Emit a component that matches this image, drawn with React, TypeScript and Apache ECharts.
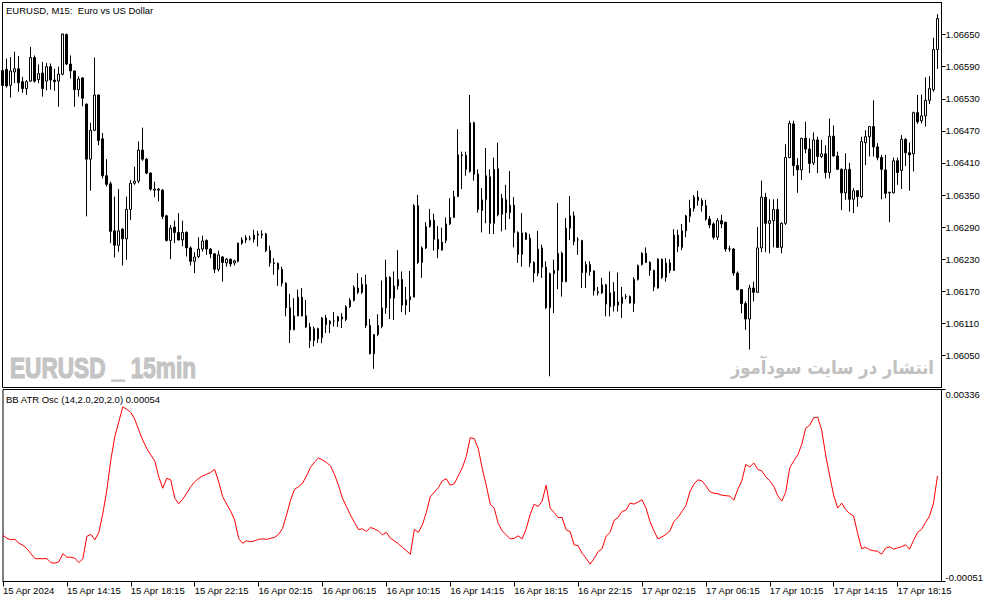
import { useEffect, useRef } from 'react';
import * as echarts from 'echarts';

const FONT = "'Liberation Sans', Arial, sans-serif";

// M15 bars from 15 Apr 2024 10:15, plus one empty slot on the right edge
const MONTHS = ['Jan', 'Feb', 'Mar', 'Apr', 'May', 'Jun', 'Jul', 'Aug', 'Sep', 'Oct', 'Nov', 'Dec'];
const START = Date.UTC(2024, 3, 15, 10, 15);
const pad = (n: number) => (n < 10 ? '0' + n : '' + n);
const categories: string[] = [];
for (let i = 0; i < 236; i++) {
  const d = new Date(START + i * 15 * 60000);
  categories.push(`${d.getUTCDate()} ${MONTHS[d.getUTCMonth()]} ${pad(d.getUTCHours())}:${pad(d.getUTCMinutes())}`);
}

const tickLabels = [
  '15 Apr 2024', '15 Apr 14:15', '15 Apr 18:15', '15 Apr 22:15', '16 Apr 02:15',
  '16 Apr 06:15', '16 Apr 10:15', '16 Apr 14:15', '16 Apr 18:15', '16 Apr 22:15',
  '17 Apr 02:15', '17 Apr 06:15', '17 Apr 10:15', '17 Apr 14:15', '17 Apr 18:15',
];

const opens = [
  1.06583, 1.06585, 1.06555, 1.06580, 1.06586, 1.06562, 1.06549, 1.06563, 1.06607, 1.06566,
  1.06578, 1.06563, 1.06590, 1.06565, 1.06563, 1.06576, 1.06650, 1.06595, 1.06582, 1.06547,
  1.06569, 1.06520, 1.06417, 1.06471, 1.06537, 1.06455, 1.06386, 1.06371, 1.06283, 1.06256,
  1.06286, 1.06268, 1.06323, 1.06372, 1.06376, 1.06434, 1.06417, 1.06391, 1.06359, 1.06359,
  1.06359, 1.06311, 1.06265, 1.06290, 1.06280, 1.06266, 1.06280, 1.06251, 1.06226, 1.06235,
  1.06249, 1.06265, 1.06249, 1.06240, 1.06211, 1.06234, 1.06223, 1.06230, 1.06223, 1.06226,
  1.06260, 1.06266, 1.06268, 1.06267, 1.06275, 1.06277, 1.06277, 1.06246, 1.06223, 1.06222,
  1.06211, 1.06185, 1.06139, 1.06098, 1.06124, 1.06159, 1.06124, 1.06103, 1.06078, 1.06100,
  1.06083, 1.06120, 1.06109, 1.06114, 1.06114, 1.06122, 1.06117, 1.06141, 1.06153, 1.06176,
  1.06168, 1.06182, 1.06106, 1.06053, 1.06089, 1.06104, 1.06139, 1.06196, 1.06157, 1.06180,
  1.06192, 1.06144, 1.06154, 1.06159, 1.06330, 1.06224, 1.06251, 1.06291, 1.06303, 1.06267,
  1.06247, 1.06265, 1.06296, 1.06308, 1.06347, 1.06425, 1.06424, 1.06394, 1.06485, 1.06389,
  1.06321, 1.06341, 1.06384, 1.06297, 1.06399, 1.06314, 1.06341, 1.06317, 1.06331, 1.06280,
  1.06239, 1.06279, 1.06269, 1.06224, 1.06204, 1.06251, 1.06215, 1.06139, 1.06203, 1.06209,
  1.06241, 1.06188, 1.06288, 1.06311, 1.06266, 1.06265, 1.06205, 1.06220, 1.06208, 1.06169,
  1.06167, 1.06182, 1.06141, 1.06169, 1.06144, 1.06147, 1.06160, 1.06160, 1.06147, 1.06192,
  1.06220, 1.06241, 1.06224, 1.06209, 1.06176, 1.06230, 1.06196, 1.06223, 1.06209, 1.06275,
  1.06252, 1.06283, 1.06310, 1.06325, 1.06346, 1.06340, 1.06330, 1.06305, 1.06296, 1.06271,
  1.06302, 1.06299, 1.06249, 1.06249, 1.06204, 1.06173, 1.06147, 1.06118, 1.06176, 1.06168,
  1.06251, 1.06346, 1.06297, 1.06302, 1.06323, 1.06252, 1.06297, 1.06420, 1.06483, 1.06405,
  1.06397, 1.06456, 1.06436, 1.06410, 1.06453, 1.06422, 1.06427, 1.06392, 1.06460, 1.06423,
  1.06398, 1.06354, 1.06398, 1.06342, 1.06358, 1.06347, 1.06448, 1.06459, 1.06478, 1.06440,
  1.06420, 1.06397, 1.06354, 1.06354, 1.06414, 1.06396, 1.06454, 1.06429, 1.06427, 1.06504,
  1.06489, 1.06498, 1.06527, 1.06547, 1.06622,
];

const highs = [
  1.06590, 1.06605, 1.06608, 1.06618, 1.06610, 1.06571, 1.06565, 1.06627, 1.06611, 1.06594,
  1.06599, 1.06597, 1.06596, 1.06586, 1.06590, 1.06652, 1.06652, 1.06611, 1.06583, 1.06572,
  1.06570, 1.06521, 1.06485, 1.06607, 1.06538, 1.06466, 1.06417, 1.06375, 1.06347, 1.06361,
  1.06288, 1.06347, 1.06378, 1.06403, 1.06450, 1.06476, 1.06419, 1.06392, 1.06375, 1.06363,
  1.06361, 1.06313, 1.06294, 1.06302, 1.06316, 1.06302, 1.06282, 1.06254, 1.06243, 1.06271,
  1.06274, 1.06267, 1.06251, 1.06241, 1.06246, 1.06236, 1.06232, 1.06231, 1.06229, 1.06261,
  1.06271, 1.06275, 1.06274, 1.06285, 1.06283, 1.06284, 1.06279, 1.06255, 1.06232, 1.06224,
  1.06216, 1.06187, 1.06165, 1.06157, 1.06173, 1.06176, 1.06154, 1.06111, 1.06104, 1.06102,
  1.06122, 1.06126, 1.06116, 1.06131, 1.06124, 1.06129, 1.06144, 1.06157, 1.06181, 1.06204,
  1.06196, 1.06201, 1.06118, 1.06090, 1.06127, 1.06190, 1.06229, 1.06198, 1.06207, 1.06247,
  1.06207, 1.06178, 1.06208, 1.06333, 1.06350, 1.06254, 1.06299, 1.06324, 1.06315, 1.06292,
  1.06289, 1.06308, 1.06344, 1.06358, 1.06473, 1.06431, 1.06431, 1.06537, 1.06487, 1.06398,
  1.06363, 1.06438, 1.06398, 1.06420, 1.06448, 1.06352, 1.06369, 1.06395, 1.06346, 1.06282,
  1.06316, 1.06280, 1.06277, 1.06226, 1.06283, 1.06257, 1.06226, 1.06205, 1.06229, 1.06335,
  1.06244, 1.06307, 1.06348, 1.06319, 1.06271, 1.06266, 1.06226, 1.06226, 1.06209, 1.06178,
  1.06195, 1.06184, 1.06207, 1.06187, 1.06205, 1.06178, 1.06165, 1.06162, 1.06196, 1.06220,
  1.06243, 1.06252, 1.06226, 1.06210, 1.06232, 1.06231, 1.06232, 1.06230, 1.06286, 1.06285,
  1.06296, 1.06313, 1.06341, 1.06350, 1.06358, 1.06344, 1.06341, 1.06311, 1.06299, 1.06307,
  1.06313, 1.06300, 1.06255, 1.06251, 1.06207, 1.06174, 1.06151, 1.06182, 1.06188, 1.06290,
  1.06377, 1.06354, 1.06342, 1.06342, 1.06343, 1.06299, 1.06445, 1.06489, 1.06489, 1.06419,
  1.06457, 1.06487, 1.06456, 1.06467, 1.06459, 1.06453, 1.06443, 1.06493, 1.06480, 1.06431,
  1.06400, 1.06428, 1.06410, 1.06363, 1.06359, 1.06459, 1.06471, 1.06479, 1.06527, 1.06447,
  1.06425, 1.06425, 1.06356, 1.06420, 1.06420, 1.06462, 1.06456, 1.06448, 1.06506, 1.06537,
  1.06538, 1.06570, 1.06572, 1.06644, 1.06688,
];

const lows = [
  1.06516, 1.06551, 1.06532, 1.06559, 1.06543, 1.06541, 1.06537, 1.06562, 1.06560, 1.06559,
  1.06534, 1.06546, 1.06547, 1.06545, 1.06515, 1.06574, 1.06593, 1.06568, 1.06515, 1.06534,
  1.06516, 1.06310, 1.06358, 1.06470, 1.06443, 1.06381, 1.06366, 1.06260, 1.06233, 1.06244,
  1.06218, 1.06229, 1.06303, 1.06369, 1.06372, 1.06414, 1.06389, 1.06358, 1.06346, 1.06338,
  1.06305, 1.06263, 1.06230, 1.06260, 1.06265, 1.06254, 1.06235, 1.06218, 1.06204, 1.06232,
  1.06244, 1.06238, 1.06232, 1.06204, 1.06207, 1.06188, 1.06216, 1.06216, 1.06218, 1.06224,
  1.06257, 1.06260, 1.06265, 1.06261, 1.06254, 1.06269, 1.06243, 1.06216, 1.06201, 1.06180,
  1.06179, 1.06123, 1.06073, 1.06097, 1.06123, 1.06123, 1.06101, 1.06064, 1.06067, 1.06073,
  1.06073, 1.06092, 1.06092, 1.06104, 1.06103, 1.06101, 1.06114, 1.06139, 1.06151, 1.06165,
  1.06165, 1.06101, 1.06052, 1.06025, 1.06086, 1.06101, 1.06128, 1.06118, 1.06116, 1.06173,
  1.06131, 1.06126, 1.06131, 1.06159, 1.06221, 1.06195, 1.06249, 1.06289, 1.06246, 1.06232,
  1.06246, 1.06260, 1.06294, 1.06307, 1.06346, 1.06361, 1.06386, 1.06392, 1.06377, 1.06317,
  1.06280, 1.06297, 1.06277, 1.06277, 1.06310, 1.06282, 1.06285, 1.06305, 1.06252, 1.06223,
  1.06216, 1.06266, 1.06215, 1.06187, 1.06198, 1.06195, 1.06137, 1.06011, 1.06129, 1.06174,
  1.06160, 1.06187, 1.06266, 1.06256, 1.06238, 1.06176, 1.06176, 1.06199, 1.06162, 1.06162,
  1.06165, 1.06123, 1.06123, 1.06132, 1.06132, 1.06120, 1.06155, 1.06147, 1.06131, 1.06190,
  1.06218, 1.06223, 1.06199, 1.06170, 1.06175, 1.06193, 1.06188, 1.06204, 1.06208, 1.06243,
  1.06247, 1.06271, 1.06299, 1.06319, 1.06330, 1.06319, 1.06302, 1.06288, 1.06267, 1.06266,
  1.06288, 1.06244, 1.06244, 1.06199, 1.06172, 1.06129, 1.06098, 1.06061, 1.06151, 1.06167,
  1.06243, 1.06243, 1.06241, 1.06252, 1.06251, 1.06241, 1.06294, 1.06419, 1.06386, 1.06354,
  1.06378, 1.06428, 1.06391, 1.06406, 1.06391, 1.06419, 1.06381, 1.06381, 1.06422, 1.06397,
  1.06322, 1.06341, 1.06319, 1.06316, 1.06328, 1.06344, 1.06406, 1.06422, 1.06422, 1.06415,
  1.06342, 1.06344, 1.06299, 1.06353, 1.06369, 1.06361, 1.06404, 1.06358, 1.06394, 1.06483,
  1.06484, 1.06478, 1.06520, 1.06543, 1.06586,
];

const closes = [
  1.06555, 1.06554, 1.06582, 1.06586, 1.06560, 1.06549, 1.06562, 1.06607, 1.06563, 1.06577,
  1.06549, 1.06590, 1.06565, 1.06562, 1.06576, 1.06651, 1.06595, 1.06582, 1.06547, 1.06567,
  1.06531, 1.06417, 1.06471, 1.06537, 1.06452, 1.06386, 1.06370, 1.06282, 1.06256, 1.06283,
  1.06268, 1.06323, 1.06372, 1.06376, 1.06434, 1.06417, 1.06391, 1.06361, 1.06361, 1.06361,
  1.06310, 1.06265, 1.06288, 1.06280, 1.06266, 1.06280, 1.06251, 1.06226, 1.06234, 1.06249,
  1.06264, 1.06249, 1.06240, 1.06211, 1.06238, 1.06224, 1.06230, 1.06221, 1.06227, 1.06260,
  1.06266, 1.06270, 1.06269, 1.06275, 1.06277, 1.06275, 1.06246, 1.06223, 1.06222, 1.06211,
  1.06185, 1.06139, 1.06098, 1.06124, 1.06159, 1.06124, 1.06103, 1.06078, 1.06100, 1.06081,
  1.06120, 1.06108, 1.06114, 1.06114, 1.06122, 1.06118, 1.06141, 1.06153, 1.06177, 1.06168,
  1.06183, 1.06106, 1.06053, 1.06089, 1.06106, 1.06139, 1.06196, 1.06157, 1.06180, 1.06192,
  1.06144, 1.06154, 1.06160, 1.06330, 1.06224, 1.06251, 1.06291, 1.06303, 1.06267, 1.06249,
  1.06262, 1.06296, 1.06308, 1.06347, 1.06425, 1.06424, 1.06398, 1.06485, 1.06389, 1.06323,
  1.06341, 1.06386, 1.06297, 1.06398, 1.06313, 1.06344, 1.06317, 1.06331, 1.06280, 1.06239,
  1.06279, 1.06267, 1.06223, 1.06204, 1.06249, 1.06215, 1.06139, 1.06203, 1.06209, 1.06241,
  1.06188, 1.06288, 1.06311, 1.06263, 1.06266, 1.06205, 1.06220, 1.06207, 1.06171, 1.06167,
  1.06182, 1.06146, 1.06167, 1.06143, 1.06150, 1.06159, 1.06160, 1.06148, 1.06192, 1.06218,
  1.06241, 1.06224, 1.06209, 1.06178, 1.06230, 1.06196, 1.06223, 1.06209, 1.06275, 1.06254,
  1.06283, 1.06311, 1.06325, 1.06346, 1.06340, 1.06330, 1.06305, 1.06294, 1.06271, 1.06302,
  1.06296, 1.06249, 1.06249, 1.06204, 1.06173, 1.06147, 1.06118, 1.06176, 1.06168, 1.06251,
  1.06346, 1.06297, 1.06302, 1.06323, 1.06252, 1.06297, 1.06420, 1.06484, 1.06405, 1.06397,
  1.06456, 1.06436, 1.06409, 1.06453, 1.06422, 1.06427, 1.06392, 1.06460, 1.06423, 1.06398,
  1.06354, 1.06398, 1.06342, 1.06358, 1.06347, 1.06450, 1.06459, 1.06478, 1.06440, 1.06420,
  1.06398, 1.06353, 1.06355, 1.06414, 1.06392, 1.06454, 1.06429, 1.06425, 1.06504, 1.06487,
  1.06498, 1.06527, 1.06549, 1.06622, 1.06680,
];

// BB ATR Osc (14,2.0,20,2.0)
const oscValues = [
  0.00042, 0.00036, 0.00033, 0.00034, 0.00026, 0.00022, 0.00015, 0.00005, -0.00005, -0.00005,
  -0.00005, -0.00005, -0.00013, -0.00014, -0.00011, 0.00005, -0.00002, -0.00002, -0.00004, -0.00013,
  -0.00005, 0.00040, 0.00044, 0.00033, 0.00048, 0.00086, 0.00133, 0.00194, 0.00241, 0.00271,
  0.00301, 0.00296, 0.00290, 0.00276, 0.00254, 0.00234, 0.00217, 0.00204, 0.00192, 0.00160,
  0.00137, 0.00157, 0.00154, 0.00117, 0.00106, 0.00115, 0.00127, 0.00140, 0.00150, 0.00157,
  0.00162, 0.00165, 0.00169, 0.00175, 0.00150, 0.00120, 0.00105, 0.00091, 0.00073, 0.00036,
  0.00026, 0.00031, 0.00029, 0.00031, 0.00034, 0.00035, 0.00034, 0.00036, 0.00038, 0.00044,
  0.00056, 0.00083, 0.00113, 0.00135, 0.00140, 0.00147, 0.00162, 0.00179, 0.00190, 0.00198,
  0.00194, 0.00189, 0.00182, 0.00165, 0.00143, 0.00117, 0.00100, 0.00083, 0.00068, 0.00054,
  0.00055, 0.00050, 0.00058, 0.00055, 0.00051, 0.00043, 0.00048, 0.00036, 0.00031, 0.00025,
  0.00018, 0.00011, 0.00004, 0.00054, 0.00048, 0.00063, 0.00088, 0.00120, 0.00129, 0.00138,
  0.00152, 0.00156, 0.00143, 0.00146, 0.00162, 0.00178, 0.00201, 0.00239, 0.00237, 0.00217,
  0.00177, 0.00143, 0.00105, 0.00097, 0.00066, 0.00051, 0.00043, 0.00035, 0.00036, 0.00041,
  0.00035, 0.00055, 0.00084, 0.00105, 0.00100, 0.00111, 0.00143, 0.00097, 0.00088, 0.00078,
  0.00078, 0.00053, 0.00050, 0.00023, 0.00021, 0.00006, -0.00004, -0.00016, -0.00005, 0.00009,
  0.00015, 0.00040, 0.00048, 0.00072, 0.00078, 0.00090, 0.00093, 0.00107, 0.00105, 0.00109,
  0.00114, 0.00097, 0.00070, 0.00051, 0.00035, 0.00039, 0.00044, 0.00051, 0.00070, 0.00078,
  0.00090, 0.00102, 0.00130, 0.00145, 0.00154, 0.00152, 0.00142, 0.00130, 0.00127, 0.00126,
  0.00123, 0.00122, 0.00121, 0.00113, 0.00135, 0.00152, 0.00185, 0.00180, 0.00188, 0.00175,
  0.00172, 0.00160, 0.00152, 0.00141, 0.00122, 0.00111, 0.00129, 0.00178, 0.00192, 0.00204,
  0.00225, 0.00258, 0.00264, 0.00279, 0.00280, 0.00254, 0.00204, 0.00162, 0.00123, 0.00097,
  0.00107, 0.00094, 0.00086, 0.00081, 0.00046, 0.00015, 0.00018, 0.00013, 0.00011, 0.00010,
  0.00004, 0.00016, 0.00019, 0.00014, 0.00017, 0.00019, 0.00023, 0.00014, 0.00032, 0.00048,
  0.00054, 0.00068, 0.00081, 0.00107, 0.00162,
];

const labelStyle = { color: '#000', fontSize: 9.5, fontFamily: FONT };
const everyFourHours = (index: number) => index % 16 === 0;

export default function App() {
  const chartRef = useRef<HTMLDivElement>(null);

  useEffect(() => {
    document.body.style.margin = '0';
    if (!chartRef.current) return;
    const chart = echarts.init(chartRef.current, undefined, { renderer: 'svg' });

    const candles = opens.map((o, i) => [o, closes[i], lows[i], highs[i]]);

    const option: echarts.EChartsOption = {
      animation: false,
      backgroundColor: '#ffffff',
      grid: [
        { left: 2.5, top: 2.5, width: 939, height: 385, show: true, borderColor: '#000', borderWidth: 1 },
        { left: 2.5, top: 389.5, width: 939, height: 192, show: true, borderColor: '#000', borderWidth: 1 },
      ],
      xAxis: [
        {
          type: 'category',
          gridIndex: 0,
          data: categories,
          boundaryGap: false,
          axisLine: { show: false },
          axisTick: { show: false },
          axisLabel: { show: false },
          splitLine: { show: false },
        },
        {
          type: 'category',
          gridIndex: 1,
          data: categories,
          boundaryGap: false,
          axisLine: { onZero: false, lineStyle: { color: '#000', width: 1 } },
          axisTick: { interval: everyFourHours, length: 5, lineStyle: { color: '#000' } },
          axisLabel: {
            ...labelStyle,
            interval: everyFourHours,
            align: 'left',
            margin: 4,
            formatter: (v: string, i: number) => tickLabels[i / 16] ?? v,
          },
          splitLine: { show: false },
        },
      ],
      yAxis: [
        {
          type: 'value',
          gridIndex: 0,
          position: 'right',
          min: 1.0599,
          max: 1.0671,
          interval: 0.0006,
          axisLine: { show: true, lineStyle: { color: '#000' } },
          axisTick: { show: true, length: 4, lineStyle: { color: '#000' } },
          axisLabel: {
            ...labelStyle,
            margin: 4,
            showMinLabel: false,
            showMaxLabel: false,
            formatter: (v: number) => v.toFixed(5),
          },
          splitLine: { show: false },
        },
        {
          type: 'value',
          gridIndex: 1,
          position: 'right',
          min: -0.00051,
          max: 0.00336,
          interval: 0.00387,
          axisLine: { show: true, lineStyle: { color: '#000' } },
          axisTick: { show: true, length: 4, lineStyle: { color: '#000' } },
          axisLabel: {
            ...labelStyle,
            margin: 4,
            formatter: (v: number) => (v > 0 ? `{t|${v.toFixed(5)}}` : `{b|${v.toFixed(5)}}`),
            rich: {
              t: { ...labelStyle, padding: [9, 0, 0, 0] },
              b: { ...labelStyle, padding: [0, 0, 9, 0] },
            },
          },
          splitLine: { show: false },
        },
      ],
      series: [
        {
          type: 'candlestick',
          xAxisIndex: 0,
          yAxisIndex: 0,
          data: candles,
          barWidth: 2,
          itemStyle: {
            color: '#ffffff',
            color0: '#000000',
            borderColor: '#000000',
            borderColor0: '#000000',
            borderColorDoji: '#000000',
            borderWidth: 1,
          },
          silent: true,
        },
        {
          type: 'line',
          xAxisIndex: 1,
          yAxisIndex: 1,
          data: oscValues,
          symbol: 'none',
          lineStyle: { color: '#ff0000', width: 1 },
          silent: true,
        },
      ],
      graphic: [
        {
          type: 'text',
          x: 6,
          y: 10,
          style: {
            text: 'EURUSD, M15:  Euro vs US Dollar',
            font: `9.5px ${FONT}`,
            fill: '#000',
            textVerticalAlign: 'middle',
            verticalAlign: 'middle',
          },
        },
        {
          type: 'text',
          x: 6,
          y: 399,
          style: {
            text: 'BB ATR Osc (14,2.0,20,2.0) 0.00054',
            font: `9.5px ${FONT}`,
            fill: '#000',
            textVerticalAlign: 'middle',
            verticalAlign: 'middle',
          },
        },
        {
          type: 'text',
          x: 10,
          y: 368,
          scaleX: 0.78,
          style: {
            text: 'EURUSD _ 15min',
            font: `bold 29px ${FONT}`,
            fill: '#c4c4c4',
            stroke: '#c4c4c4',
            lineWidth: 1.2,
            textVerticalAlign: 'middle',
            verticalAlign: 'middle',
          },
        },
        {
          type: 'text',
          x: 934,
          y: 367,
          scaleX: 0.87,
          style: {
            text: 'انتشار در سایت سودآموز',
            font: "bold 19px 'DejaVu Sans', sans-serif",
            fill: '#c0c0c0',
            textAlign: 'right',
            align: 'right',
            textVerticalAlign: 'middle',
            verticalAlign: 'middle',
          },
        },
      ],
    };

    chart.setOption(option);
    return () => {
      chart.dispose();
    };
  }, []);

  return <div ref={chartRef} style={{ width: '994px', height: '603px' }} />;
}
